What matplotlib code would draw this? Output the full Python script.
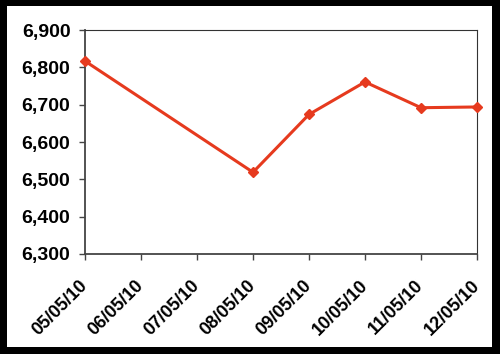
import datetime as dt
import matplotlib
matplotlib.use('Agg')
import matplotlib.pyplot as plt
import matplotlib.dates as mdates
from matplotlib.ticker import FuncFormatter, MultipleLocator

plt.rcParams['font.family'] = ['Liberation Sans', 'DejaVu Sans']
plt.rcParams['font.weight'] = 'bold'
plt.rcParams['ytick.labelsize'] = 14
plt.rcParams['xtick.labelsize'] = 13

# data
dates = ['2010-05-05', '2010-05-08', '2010-05-09', '2010-05-10', '2010-05-11', '2010-05-12']
values = [6817, 6519, 6674, 6761, 6692, 6694]
x_start = '2010-05-05'
x_end = '2010-05-12'
y_min, y_max, y_step = 6300, 6900, 100

days = [dt.datetime.strptime(d, '%Y-%m-%d') for d in dates]
line_color = '#E63A1E'

fig = plt.figure(figsize=(5.0, 3.54), dpi=100)
fig.patch.set_facecolor('black')
# white card inside the black frame
fig.patches.append(plt.Rectangle((0.014, 0.02), 0.970, 0.963, transform=fig.transFigure,
                                 facecolor='white', edgecolor='none', zorder=-10))

ax = fig.add_axes([0.17, 0.2825, 0.784, 0.6325])
ax.plot(days, values, color=line_color, linewidth=2.2, marker='D', markersize=5,
        markerfacecolor=line_color, markeredgecolor=line_color, clip_on=False, zorder=3)

ax.set_xlim(dt.datetime.strptime(x_start, '%Y-%m-%d'), dt.datetime.strptime(x_end, '%Y-%m-%d'))
ax.set_ylim(y_min, y_max)
ax.yaxis.set_major_locator(MultipleLocator(y_step))
ax.yaxis.set_major_formatter(FuncFormatter(lambda v, p: '{:,.0f}'.format(v)))
ax.xaxis.set_major_locator(mdates.DayLocator())
ax.xaxis.set_major_formatter(mdates.DateFormatter('%d/%m/%y'))

for s in ['left', 'bottom']:
    ax.spines[s].set_color('#444444')
    ax.spines[s].set_linewidth(1.3)
for s in ['top', 'right']:
    ax.spines[s].set_color('#333333')
    ax.spines[s].set_linewidth(0.8)

ax.tick_params(axis='y', direction='out', length=4.5, width=1.0, color='#444444', pad=6)
ax.tick_params(axis='x', direction='out', length=4, width=1.0, color='#444444', pad=17)
plt.setp(ax.get_xticklabels(), rotation=45, ha='right', va='center', rotation_mode='anchor')

fig.savefig('out.png', dpi=100, facecolor=fig.get_facecolor())
